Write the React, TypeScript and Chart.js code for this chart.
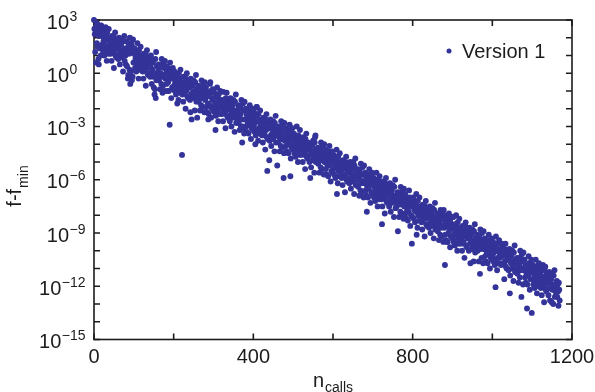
import { useEffect, useRef } from "react";
import { Chart, registerables } from "chart.js";

Chart.register(...registerables);

// log10(f - f_min), one value per call (n = 0, 1, 2, ...)
const log10Gap: number[] = [
  3.0, 2.5, 2.2, 1.2, 2.6, 0.6, 2.3, 1.7, 2.8, 1.5, 2.4, 0.8, 0.5, 2.1, 2.6, 1.4, 2.3, 1.0, 2.7, 1.6,
  2.1, 1.5, 2.4, 1.2, 1.8, 2.0, 1.0, 2.2, 1.6, 2.6, 1.3, 1.9, 0.7, 2.3, 1.4, 2.0, 1.1, 2.5, 1.5, 1.8,
  1.4, 1.9, 1.1, 1.7, 0.7, 2.1, 1.5, 1.8, 1.2, 1.6, 0.3, 2.0, 1.3, 2.3, 1.0, 1.6, 0.9, 1.8, 1.4, 1.7,
  1.5, 0.8, 1.4, 2.0, 1.1, 0.5, 1.7, 1.2, 1.6, 0.9, 1.9, 1.0, 1.3, 0.1, 1.8, 1.1, 2.1, 0.7, 1.4, 1.0,
  0.5, 1.2, 1.8, 0.4, 1.4, -0.3, -0.1, 1.6, 1.1, 0.2, 2.0, -0.6, 1.3, 0.1, 1.7, -0.4, 1.5, -0.2, 1.9, 0.6,
  1.1, 0.6, 1.4, 0.3, 0.8, 1.0, 0.1, 1.2, 0.7, 1.7, 0.4, 0.9, -0.3, 1.3, 0.5, 1.0, 0.2, 1.5, 0.6, 0.8,
  0.4, 0.9, 0.1, 0.7, -0.3, 1.1, 0.5, 0.8, 0.2, 0.6, -0.7, 1.0, 0.3, 1.3, 0.0, 0.6, -0.1, 0.8, 0.4, 0.7,
  0.5, -0.2, 0.4, 1.0, 0.1, -0.6, 0.7, 0.2, 0.6, -0.2, -0.8, -0.1, -1.2, -0.9, 0.8, -1.4, 1.2, -0.4, 0.4, 0.0,
  -0.3, 0.1, 0.5, -0.4, 0.3, -0.1, -0.9, 0.4, 0.0, -0.6, 0.8, -0.2, -1.1, -0.7, 0.6, -0.1, 0.3, -1.0, 0.7, -0.3,
  -0.2, 0.4, -0.6, 0.1, -1.0, -0.1, -0.5, 0.3, -1.0, -0.1, -2.9, 0.6, -0.3, 0.2, -1.4, 0.0, -0.8, -0.3, 0.3, -0.9,
  -0.2, -0.7, 0.1, -1.0, -0.5, -0.3, -1.2, -0.1, -0.6, -1.7, -0.9, -0.4, -1.5, 0.0, -0.8, -0.3, -1.1, 0.2, -0.7, -0.5,
  -0.9, -4.6, -1.2, -0.6, -1.6, -0.2, -0.8, -0.5, -1.0, -0.7, -2.0, -0.3, -1.0, 0.0, -1.3, -0.6, -1.4, -0.4, -0.8, -0.5,
  -0.8, -1.5, -2.2, -0.3, -1.2, -2.6, -0.6, -1.1, -0.7, -1.4, -0.4, -1.3, -1.0, -2.1, -0.5, -1.2, -0.1, -1.6, -0.9, -2.5,
  -1.5, -1.1, -0.7, -1.6, -0.9, -1.3, -2.1, -0.8, -1.2, -1.8, -0.4, -1.4, -1.0, -1.9, -0.6, -1.3, -0.9, -2.2, -0.5, -1.5,
  -1.4, -0.8, -1.9, -1.1, -2.2, -1.2, -1.7, -2.6, -2.3, -1.3, -1.8, -0.6, -0.5, -1.0, -2.5, -1.1, -2.0, -1.5, -0.9, -2.1,
  -1.4, -1.9, -1.1, -2.2, -1.7, -3.2, -2.4, -1.3, -1.8, -0.8, -2.1, -1.6, -2.7, -1.2, -2.0, -1.5, -2.3, -1.0, -1.9, -1.7,
  -2.0, -1.5, -2.3, -1.7, -2.7, -1.05, -1.9, -1.6, -2.2, -1.8, -3.1, -1.4, -2.1, -1.1, -2.4, -1.8, -2.5, -1.6, -2.0, -1.7,
  -1.9, -2.7, -2.0, -1.4, -2.3, -3.0, -1.7, -2.2, -1.8, -2.5, -1.5, -2.4, -2.1, -3.3, -1.6, -2.4, -1.2, -2.8, -2.1, -2.5,
  -2.7, -2.2, -1.8, -2.8, -2.0, -2.4, -3.2, -1.9, -2.3, -3.0, -1.5, -2.6, -3.9, -3.0, -1.7, -3.1, -2.1, -3.4, -1.6, -2.6,
  -2.6, -2.0, -3.0, -2.3, -3.3, -2.4, -2.8, -2.1, -3.4, -2.5, -2.9, -1.8, -2.7, -2.2, -3.7, -2.3, -3.1, -2.6, -2.0, -3.2,
  -2.5, -3.0, -2.2, -3.3, -2.8, -4.0, -3.5, -2.4, -1.9, -1.9, -3.2, -2.7, -3.8, -2.3, -3.1, -2.6, -3.4, -2.1, -3.0, -2.8,
  -3.2, -2.7, -3.5, -2.9, -3.9, -2.5, -3.0, -2.8, -3.4, -3.0, -4.3, -2.6, -3.2, -2.3, -3.6, -5.5, -3.7, -2.7, -3.1, -2.8,
  -4.9, -3.8, -3.1, -2.6, -3.5, -4.1, -2.9, -3.4, -3.0, -3.7, -2.7, -3.6, -3.2, -4.4, -2.8, -3.4, -2.4, -3.9, -3.2, -3.5,
  -5.2, -3.4, -3.0, -3.9, -3.2, -3.6, -4.4, -3.1, -3.5, -4.1, -2.7, -3.7, -3.3, -4.2, -2.9, -3.6, -5.9, -4.5, -2.8, -3.8,
  -3.7, -3.1, -4.1, -3.4, -4.4, -3.5, -3.9, -3.2, -4.5, -3.6, -4.0, -2.9, -3.8, -5.8, -4.8, -3.4, -4.2, -3.7, -3.1, -4.3,
  -3.7, -4.2, -3.4, -4.5, -4.0, -3.8, -4.7, -3.6, -4.1, -3.0, -4.4, -3.9, -5.0, -3.5, -4.3, -3.7, -4.6, -3.2, -4.1, -3.9,
  -4.3, -3.8, -4.6, -4.0, -5.0, -3.6, -4.2, -3.9, -4.5, -4.1, -5.4, -3.7, -4.4, -3.4, -4.7, -4.1, -4.8, -3.9, -4.3, -4.0,
  -4.2, -5.0, -4.3, -5.9, -4.6, -5.3, -4.0, -4.5, -4.1, -4.9, -3.8, -4.7, -4.4, -5.6, -3.9, -3.6, -3.5, -5.0, -4.3, -4.8,
  -5.0, -4.6, -4.2, -5.1, -4.4, -4.8, -5.6, -4.3, -4.7, -5.3, -3.9, -4.9, -4.5, -5.4, -4.1, -4.8, -4.4, -5.7, -4.0, -5.0,
  -5.0, -4.3, -5.4, -4.6, -5.7, -4.8, -5.2, -4.4, -5.8, -4.9, -5.2, -4.1, -5.1, -4.5, -6.1, -4.7, -5.5, -4.9, -4.4, -5.6,
  -4.9, -5.4, -4.6, -5.7, -5.2, -5.0, -5.9, -4.8, -5.3, -4.3, -6.8, -5.1, -6.2, -4.7, -5.5, -5.0, -5.8, -4.5, -5.4, -5.2,
  -5.6, -5.0, -5.9, -5.2, -6.3, -4.9, -5.4, -5.1, -5.8, -5.3, -6.7, -5.0, -5.7, -4.7, -6.0, -5.4, -6.1, -5.2, -5.5, -5.3,
  -5.5, -6.2, -5.6, -5.0, -5.9, -6.5, -5.3, -5.8, -5.4, -6.1, -5.1, -5.0, -5.7, -6.8, -5.2, -5.9, -4.8, -6.3, -5.6, -6.0,
  -6.3, -5.8, -5.4, -6.4, -5.6, -6.0, -6.9, -5.5, -6.0, -6.6, -5.1, -6.2, -5.7, -6.7, -5.3, -6.1, -5.7, -7.0, -5.2, -6.2,
  -6.2, -5.6, -6.6, -5.9, -6.9, -7.8, -6.4, -5.7, -7.0, -6.1, -6.5, -5.4, -6.3, -5.8, -7.3, -5.9, -6.7, -6.2, -5.6, -6.8,
  -6.1, -6.7, -5.9, -7.0, -6.4, -6.3, -7.2, -6.0, -6.6, -5.6, -6.9, -6.3, -7.5, -6.0, -6.8, -6.2, -7.1, -5.8, -6.6, -6.5,
  -6.8, -6.3, -7.1, -8.5, -7.5, -6.1, -6.7, -6.4, -7.0, -6.6, -7.9, -6.2, -6.9, -5.9, -7.2, -6.6, -7.3, -6.4, -6.8, -6.5,
  -6.7, -7.5, -6.8, -6.2, -7.1, -7.8, -6.5, -7.0, -6.6, -7.3, -6.3, -7.2, -6.9, -8.1, -6.4, -7.2, -6.0, -7.6, -6.9, -7.3,
  -7.5, -7.1, -6.7, -8.9, -6.9, -7.3, -8.1, -6.8, -7.2, -7.8, -6.4, -7.4, -7.0, -7.9, -6.6, -7.3, -6.9, -8.2, -6.5, -7.5,
  -7.4, -6.8, -7.9, -7.1, -8.2, -7.2, -7.7, -7.0, -8.3, -7.3, -7.8, -6.6, -7.5, -7.0, -8.6, -7.2, -8.0, -7.5, -9.6, -8.1,
  -7.4, -7.0, -7.1, -8.2, -7.7, -7.5, -8.4, -7.3, -7.8, -6.8, -9.1, -7.6, -8.7, -7.2, -8.0, -7.5, -8.3, -7.0, -7.9, -7.7,
  -8.0, -7.6, -8.4, -7.8, -8.8, -7.4, -7.9, -7.7, -8.2, -7.9, -9.2, -7.5, -8.2, -7.2, -8.5, -7.8, -8.6, -7.6, -8.1, -7.8,
  -8.0, -8.7, -8.1, -7.5, -8.4, -9.0, -7.8, -8.3, -7.9, -8.6, -7.6, -8.5, -8.2, -9.3, -7.7, -8.4, -7.3, -8.8, -8.1, -8.5,
  -8.8, -8.3, -7.9, -8.9, -8.1, -8.5, -9.4, -8.0, -8.4, -9.1, -7.7, -8.7, -8.2, -9.2, -7.8, -8.6, -8.2, -9.5, -7.7, -8.7,
  -8.0, -10.8, -9.1, -8.4, -9.4, -8.5, -9.5, -8.2, -9.5, -8.6, -9.0, -7.9, -8.8, -8.3, -9.8, -8.4, -9.2, -8.7, -8.1, -9.3,
  -8.6, -8.1, -8.1, -9.5, -9.0, -8.8, -9.7, -8.5, -9.1, -8.0, -9.4, -8.8, -10.0, -8.4, -9.2, -8.7, -9.6, -8.2, -9.1, -8.9,
  -9.3, -8.8, -9.6, -9.0, -10.0, -8.6, -9.2, -8.9, -9.5, -9.1, -10.4, -8.7, -8.6, -8.4, -9.7, -9.1, -9.8, -8.9, -9.3, -9.0,
  -9.2, -10.0, -9.3, -8.7, -9.6, -10.7, -9.0, -9.5, -9.1, -9.9, -8.8, -9.7, -9.4, -10.6, -8.9, -9.7, -8.5, -10.1, -9.3, -9.8,
  -10.0, -9.5, -9.1, -10.0, -9.3, -9.8, -10.6, -9.2, -9.6, -11.3, -8.8, -9.9, -9.4, -10.4, -9.0, -9.7, -9.4, -10.7, -8.9, -9.9,
  -9.9, -9.3, -10.3, -9.6, -10.6, -9.7, -10.1, -9.4, -10.7, -9.8, -10.2, -9.1, -10.0, -9.5, -11.0, -9.6, -10.4, -9.9, -9.3, -10.5,
  -9.8, -10.3, -9.5, -10.6, -10.1, -9.9, -10.8, -9.7, -12.05, -9.2, -10.5, -10.0, -11.1, -9.6, -10.4, -9.9, -10.7, -9.4, -10.3, -10.1,
  -10.4, -10.0, -10.8, -10.2, -9.6, -9.8, -10.3, -10.0, -10.7, -10.2, -11.6, -9.9, -10.6, -9.6, -10.9, -10.3, -11.0, -10.1, -10.5, -10.2,
  -10.4, -11.1, -10.5, -9.9, -12.4, -11.4, -10.2, -10.7, -10.3, -11.0, -10.0, -10.9, -10.6, -11.7, -10.1, -10.8, -9.7, -11.2, -10.5, -10.9,
  -11.2, -10.7, -10.4, -11.3, -10.6, -11.0, -11.8, -10.4, -10.8, -11.5, -10.0, -11.1, -10.6, -12.6, -10.2, -11.0, -10.5, -11.9, -10.1, -11.1,
  -11.1, -10.5, -11.5, -10.8, -11.8, -10.9, -11.3, -13.25, -11.9, -11.0, -11.4, -10.3, -11.2, -10.7, -12.2, -10.8, -11.6, -11.1, -10.5, -13.5,
  -11.0, -11.6, -10.8, -11.9, -11.3, -11.2, -12.1, -10.9, -11.5, -10.5, -11.8, -11.2, -12.4, -10.9, -11.7, -11.1, -12.0, -10.7, -11.5, -11.4,
  -11.8, -11.2, -12.1, -11.4, -12.5, -11.0, -11.6, -10.8, -12.0, -11.5, -12.9, -11.1, -11.9, -10.9, -12.2, -11.6, -12.3, -11.3, -11.7, -11.4,
  -11.7, -12.5, -11.8, -11.2, -12.1, -12.8, -11.5, -12.0, -11.6, -12.9, -11.3, -12.2, -11.9, -13.0, -11.4, -12.2, -11.1, -12.6, -11.9, -12.3,
  -12.5, -12.1, -11.7, -12.6, -11.9, -12.3, -13.1, -11.8, -12.2, -12.8,
];

const seriesLabel = "Version 1";
const xTickValues = [0, 200, 400, 600, 800, 1000, 1200];
const xTickLabels = [0, 400, 800, 1200];
const yTickExponents = [3, 2, 1, 0, -1, -2, -3, -4, -5, -6, -7, -8, -9, -10, -11, -12, -13, -14, -15];
const yLabelExponents = [3, 0, -3, -6, -9, -12, -15];

const DOT = "#333399";
const INK = "#1c1c1c";
const FONT = "'Liberation Sans', Arial, Helvetica, sans-serif";

export default function App() {
  const ref = useRef<HTMLCanvasElement | null>(null);

  useEffect(() => {
    const canvas = ref.current;
    if (!canvas) return;
    const points = log10Gap.map((e, i) => ({ x: i, y: Math.pow(10, e) }));

    const decor = {
      id: "decor",
      beforeDatasetsDraw(chart: any) {
        const { ctx, chartArea: a } = chart;
        const xs = chart.scales.x;
        const ys = chart.scales.y;
        ctx.save();
        ctx.strokeStyle = INK;
        ctx.lineWidth = 1.6;
        ctx.strokeRect(a.left, a.top, a.right - a.left, a.bottom - a.top);
        const tl = 6;
        ctx.beginPath();
        for (const v of xTickValues) {
          const px = xs.getPixelForValue(v);
          ctx.moveTo(px, a.bottom);
          ctx.lineTo(px, a.bottom - tl);
          ctx.moveTo(px, a.top);
          ctx.lineTo(px, a.top + tl);
        }
        for (const e of yTickExponents) {
          const py = ys.getPixelForValue(Math.pow(10, e));
          ctx.moveTo(a.left, py);
          ctx.lineTo(a.left + tl, py);
          ctx.moveTo(a.right, py);
          ctx.lineTo(a.right - tl, py);
        }
        ctx.stroke();
        ctx.restore();
      },
      afterDraw(chart: any) {
        const { ctx, chartArea: a } = chart;
        const xs = chart.scales.x;
        const ys = chart.scales.y;
        ctx.save();
        ctx.fillStyle = INK;
        ctx.font = `20px ${FONT}`;
        ctx.textAlign = "center";
        ctx.textBaseline = "alphabetic";
        for (const v of xTickLabels) {
          ctx.fillText(String(v), xs.getPixelForValue(v), 363);
        }
        ctx.textAlign = "left";
        ctx.font = `14px ${FONT}`;
        const minW = ctx.measureText("\u22120").width;
        for (const e of yLabelExponents) {
          const py = ys.getPixelForValue(Math.pow(10, e));
          const sup = e < 0 ? "\u2212" + Math.abs(e) : String(e);
          ctx.font = `14px ${FONT}`;
          const supW = ctx.measureText(sup).width;
          const baseRight = 86 - Math.max(supW, minW) - 1;
          ctx.font = `20px ${FONT}`;
          const baseW = ctx.measureText("10").width;
          ctx.fillText("10", baseRight - baseW, py + 8.5);
          ctx.font = `14px ${FONT}`;
          ctx.fillText(sup, baseRight + 0.5, py + 0.5);
        }
        ctx.font = `20px ${FONT}`;
        const nW = ctx.measureText("n").width;
        ctx.font = `14px ${FONT}`;
        const cW = ctx.measureText("calls").width;
        const cx = (a.left + a.right) / 2;
        const startX = cx - (nW + 1 + cW) / 2;
        ctx.font = `20px ${FONT}`;
        ctx.fillText("n", startX, 387);
        ctx.font = `14px ${FONT}`;
        ctx.fillText("calls", startX + nW + 1, 392);
        ctx.save();
        ctx.translate(21, 0);
        ctx.rotate(-Math.PI / 2);
        ctx.font = `20px ${FONT}`;
        const fW = ctx.measureText("f-f").width;
        ctx.font = `14px ${FONT}`;
        const mW = ctx.measureText("min").width;
        const cy = 186;
        const sx = -(cy + (fW + 1 + mW) / 2);
        ctx.font = `20px ${FONT}`;
        ctx.fillText("f-f", sx, 0);
        ctx.font = `14px ${FONT}`;
        ctx.fillText("min", sx + fW + 1, 7);
        ctx.restore();
        ctx.fillStyle = DOT;
        ctx.beginPath();
        ctx.arc(449, 51, 2.5, 0, Math.PI * 2);
        ctx.fill();
        ctx.fillStyle = INK;
        ctx.font = `20px ${FONT}`;
        ctx.fillText(seriesLabel, 462, 57.5);
        ctx.restore();
      },
    };

    const chart = new Chart(canvas, {
      type: "scatter",
      data: {
        datasets: [
          {
            label: seriesLabel,
            data: points,
            backgroundColor: DOT,
            borderWidth: 0,
            pointRadius: 2.95,
            pointHoverRadius: 2.95,
            clip: false as any,
          },
        ],
      },
      options: {
        responsive: false,
        animation: false,
        devicePixelRatio: 1,
        layout: { padding: { left: 94, right: 23, top: 20, bottom: 52.5 } },
        plugins: { legend: { display: false }, tooltip: { enabled: false } },
        events: [],
        scales: {
          x: { type: "linear", min: 0, max: 1200, display: false },
          y: { type: "logarithmic", min: 1e-15, max: 1e3, display: false },
        },
      },
      plugins: [decor],
    });
    return () => chart.destroy();
  }, []);

  return (
    <div style={{ position: "fixed", left: 0, top: 0, width: 595, height: 392, background: "#fff" }}>
      <canvas ref={ref} width={595} height={392} style={{ width: 595, height: 392, display: "block" }} />
    </div>
  );
}
